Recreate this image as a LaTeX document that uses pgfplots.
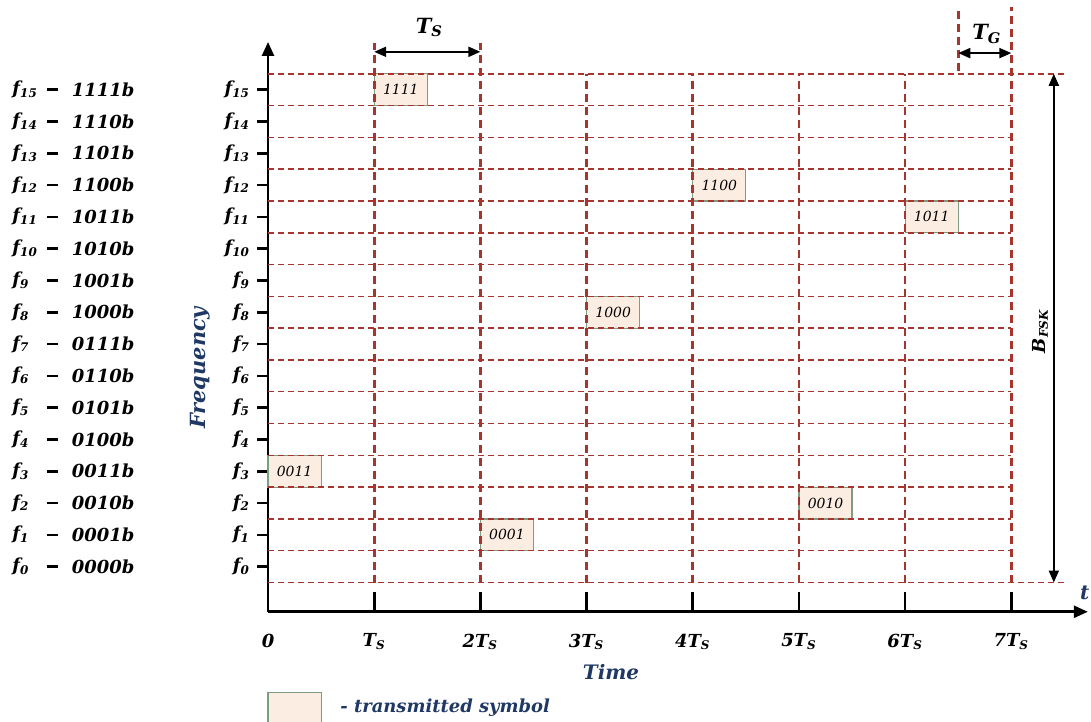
\documentclass[border=0pt]{standalone}
\usepackage{fontspec}
\setmainfont{DejaVu Serif}
\usepackage{pgfplots}
\pgfplotsset{compat=1.18}
\usetikzlibrary{arrows.meta}

\definecolor{gridred}{HTML}{A8342E}
\definecolor{boxfill}{HTML}{FCEDE2}
\definecolor{boxline}{HTML}{7E9C84}
\definecolor{darkblue}{HTML}{1F3864}

\newcommand\lab{\fontsize{9}{10}\selectfont\bfseries\itshape}
\newcommand\biglab{\fontsize{10.5}{12}\selectfont\bfseries\itshape}
\newcommand\Ts[1]{#1T\textsubscript{S}}

% one row of the frequency / code list on the left
\newcommand\frow[2]{%
  \node[anchor=west,inner sep=0pt,font=\lab] at (axis cs:-2.41,#1.5) {f\textsubscript{#1}};
  \node[inner sep=0pt] at (axis cs:-2.03,#1.5) {\rule{5.5bp}{1.3bp}};
  \node[anchor=west,inner sep=0pt,font=\lab] at (axis cs:-1.85,#1.5) {#2b};}

\tikzset{
  vline/.style={gridred, line width=1.3bp, dash pattern=on 4bp off 2.5bp},
  hline/.style={gridred, line width=0.75bp, dash pattern=on 3bp off 2bp},
  sym/.style={fill=boxfill, draw=boxline, line width=0.6bp},
  dim/.style={line width=1bp, {Triangle[length=6bp,width=5bp]}-{Triangle[length=6bp,width=5bp]}},
  code/.style={font=\fontsize{7}{8}\selectfont\itshape},
}

\begin{document}
\begin{tikzpicture}
\begin{axis}[
  x=53.1bp, y=15.9bp,
  xmin=0, xmax=7.72, ymin=-0.92, ymax=17,
  axis lines=left,
  axis line style={line width=1.3bp, -{Triangle[length=7bp,width=6bp]}},
  clip=false,
  tick align=outside,
  major tick length=5.5bp,
  xtick={0,...,7},
  xticklabels={0,\Ts{},\Ts{2},\Ts{3},\Ts{4},\Ts{5},\Ts{6},\Ts{7}},
  xtick style={draw=none},
  ytick={0.5,1.5,...,15.5},
  yticklabels={f\textsubscript{0},f\textsubscript{1},f\textsubscript{2},f\textsubscript{3},
    f\textsubscript{4},f\textsubscript{5},f\textsubscript{6},f\textsubscript{7},
    f\textsubscript{8},f\textsubscript{9},f\textsubscript{10},f\textsubscript{11},
    f\textsubscript{12},f\textsubscript{13},f\textsubscript{14},f\textsubscript{15}},
  ytick style={line width=1.3bp, black},
  ticklabel style={font=\lab},
  xticklabel style={yshift=-2bp},
]
% transmitted symbols (start time, frequency index)
\addplot[sym] coordinates {(0,3) (0.5,3) (0.5,4) (0,4)} -- cycle;
\addplot[sym] coordinates {(1,15) (1.5,15) (1.5,16) (1,16)} -- cycle;
\addplot[sym] coordinates {(2,1) (2.5,1) (2.5,2) (2,2)} -- cycle;
\addplot[sym] coordinates {(3,8) (3.5,8) (3.5,9) (3,9)} -- cycle;
\addplot[sym] coordinates {(4,12) (4.5,12) (4.5,13) (4,13)} -- cycle;
\addplot[sym] coordinates {(5,2) (5.5,2) (5.5,3) (5,3)} -- cycle;
\addplot[sym] coordinates {(6,11) (6.5,11) (6.5,12) (6,12)} -- cycle;
% key box
\addplot[sym] coordinates {(0,-3.47) (0.5,-3.47) (0.5,-4.47) (0,-4.47)} -- cycle;

% dashed grid
\pgfplotsinvokeforeach{1,...,15}{\draw[hline] (axis cs:0,#1) -- (axis cs:7,#1);}
\draw[hline] (axis cs:0,0) -- (axis cs:7.5,0);
\draw[hline] (axis cs:0,16) -- (axis cs:7.5,16);
\pgfplotsinvokeforeach{1,2}{\draw[vline] (axis cs:#1,0) -- (axis cs:#1,16.97);}
\pgfplotsinvokeforeach{3,...,6}{\draw[vline] (axis cs:#1,0) -- (axis cs:#1,16);}
\draw[vline] (axis cs:7,0) -- (axis cs:7,18.1);
\draw[vline] (axis cs:6.5,16.1) -- (axis cs:6.5,18.1);

% x ticks pointing up
\pgfplotsinvokeforeach{1,...,7}{\draw[line width=1.3bp] (axis cs:#1,-0.92) -- (axis cs:#1,-0.29);}

% symbol codes
\node[code] at (axis cs:0.25,3.5) {0011};
\node[code] at (axis cs:1.25,15.5) {1111};
\node[code] at (axis cs:2.25,1.5) {0001};
\node[code] at (axis cs:3.25,8.5) {1000};
\node[code] at (axis cs:4.25,12.5) {1100};
\node[code] at (axis cs:5.25,2.5) {0010};
\node[code] at (axis cs:6.25,11.5) {1011};

% dimension arrows
\draw[dim] (axis cs:1,16.69) -- (axis cs:2,16.69);
\node[font=\biglab] at (axis cs:1.52,17.45) {T\textsubscript{S}};
\draw[dim] (axis cs:6.5,16.65) -- (axis cs:7,16.65);
\node[font=\biglab] at (axis cs:6.77,17.25) {T\textsubscript{G}};
\draw[dim] (axis cs:7.4,16) -- (axis cs:7.4,0);
\node[font=\lab, rotate=90] at (axis cs:7.27,7.9) {B\textsubscript{FSK}};

% axis titles
\node[font=\biglab, text=darkblue, rotate=90] at (axis cs:-0.64,6.75) {Frequency};
\node[font=\fontsize{10}{12}\selectfont\bfseries\itshape, text=darkblue] at (axis cs:3.23,-2.81) {Time};
\node[font=\fontsize{10}{12}\selectfont\bfseries\itshape, text=darkblue] at (axis cs:7.69,-0.32) {t};
\node[anchor=west, inner sep=0pt, font=\lab, text=darkblue] at (axis cs:0.678,-3.94) {- transmitted symbol};

% frequency / code list
\frow{15}{1111}\frow{14}{1110}\frow{13}{1101}\frow{12}{1100}
\frow{11}{1011}\frow{10}{1010}\frow{9}{1001}\frow{8}{1000}
\frow{7}{0111}\frow{6}{0110}\frow{5}{0101}\frow{4}{0100}
\frow{3}{0011}\frow{2}{0010}\frow{1}{0001}\frow{0}{0000}

\coordinate (bl) at (axis cs:-2.524,-4.38);
\coordinate (tr) at (axis cs:7.75,18.32);
\end{axis}
\pgfresetboundingbox
\useasboundingbox (bl) rectangle (tr);
\end{tikzpicture}
\end{document}
